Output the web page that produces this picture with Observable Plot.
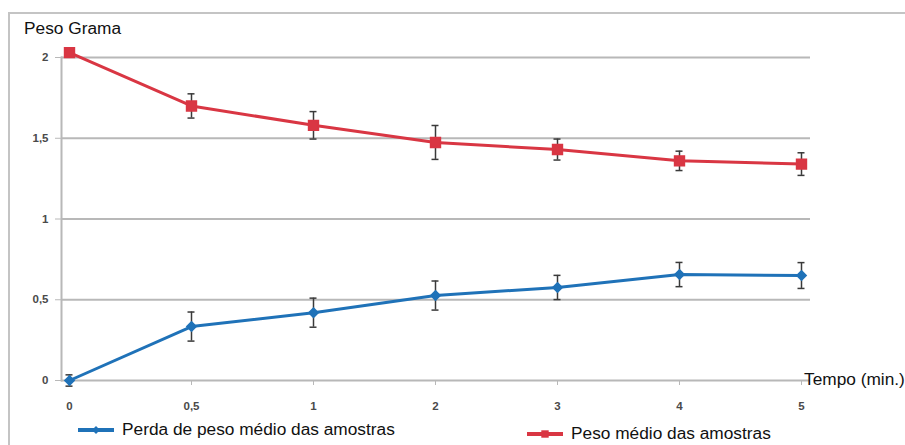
<!DOCTYPE html>
<html>
<head>
<meta charset="utf-8">
<script src="https://cdn.jsdelivr.net/npm/d3@7"></script>
<script src="https://cdn.jsdelivr.net/npm/@observablehq/plot@0.6"></script>
<style>
  html, body { margin: 0; padding: 0; background: #fff; }
  #wrap { position: relative; width: 905px; height: 445px; overflow: hidden; font-family: "Liberation Sans", Arial, sans-serif; }
  #box { position: absolute; left: 8px; top: 12px; width: 1000px; height: 500px; border-left: 2px solid #c4c4c4; border-top: 2px solid #c4c4c4; }
  #chart { position: absolute; left: 0; top: 0; }
  .lbl { position: absolute; font-size: 17.3px; color: #111; white-space: nowrap; }
  .leg { position: absolute; display: flex; align-items: center; font-size: 17.3px; color: #111; white-space: nowrap; }
  .leg svg { margin-right: 8px; }
</style>
</head>
<body>
<div id="wrap">
  <div id="box"></div>
  <div id="chart"></div>
  <div class="lbl" style="left:24px; top:18px;">Peso Grama</div>
  <div class="lbl" style="left:804px; top:369px;">Tempo (min.)</div>
  <div class="leg" id="leg1" style="left:78px; top:419px;"></div>
  <div class="leg" id="leg2" style="left:527px; top:423px;"></div>
</div>
<script>
const tempos = ["0", "0,5", "1", "2", "3", "4", "5"];
const perdaLabel = "Perda de peso médio das amostras";
const perda = [0, 0.334, 0.42, 0.526, 0.576, 0.656, 0.65];
const perdaErr = [0.035, 0.09, 0.09, 0.09, 0.075, 0.075, 0.08];
const pesoLabel = "Peso médio das amostras";
const peso = [2.03, 1.70, 1.58, 1.474, 1.43, 1.36, 1.34];
const pesoErr = [0, 0.075, 0.085, 0.105, 0.065, 0.06, 0.07];
const yTicks = [0, 0.5, 1, 1.5, 2];

const blue = "#1f72b8";
const red = "#d93643";
const errColor = "#3a3a3a";

const perdaData = tempos.map((t, i) => ({t, v: perda[i], e: perdaErr[i]}));
const pesoData = tempos.map((t, i) => ({t, v: peso[i], e: pesoErr[i]}));
const errData = [...perdaData, ...pesoData].filter(d => d.e > 0);

const fmt = d => String(d).replace(".", ",");

const chart = Plot.plot({
  width: 905,
  height: 445,
  marginLeft: 61,
  marginRight: 95,
  marginTop: 57,
  marginBottom: 65,
  style: {background: "transparent", fontFamily: "'Liberation Sans', Arial, sans-serif"},
  x: {type: "point", domain: tempos, padding: 0, insetLeft: 7, insetRight: 8, label: null},
  y: {domain: [0, 2], label: null},
  marks: [
    Plot.ruleY(yTicks, {stroke: "#b8b8b8", strokeWidth: 2}),
    Plot.frame({anchor: "left", stroke: "#b8b8b8", strokeWidth: 2}),
    Plot.axisY(yTicks, {tickFormat: fmt, tickSize: 6, tickPadding: 7, stroke: "#b8b8b8", fill: "#4a4a4a", fontSize: 11.5, fontWeight: "bold", label: null}),
    Plot.axisX({tickSize: 5, tickPadding: 16, stroke: "#b8b8b8", fill: "#4a4a4a", fontSize: 11.5, fontWeight: "bold", label: null}),
    Plot.lineY(perdaData, {x: "t", y: "v", stroke: blue, strokeWidth: 3}),
    Plot.lineY(pesoData, {x: "t", y: "v", stroke: red, strokeWidth: 3}),
    Plot.ruleX(errData, {x: "t", y1: d => d.v - d.e, y2: d => d.v + d.e, stroke: errColor, strokeWidth: 1.5}),
    Plot.ruleY(errData, {x1: "t", x2: "t", y: d => d.v - d.e, insetLeft: -3.5, insetRight: -3.5, stroke: errColor, strokeWidth: 1.5}),
    Plot.ruleY(errData, {x1: "t", x2: "t", y: d => d.v + d.e, insetLeft: -3.5, insetRight: -3.5, stroke: errColor, strokeWidth: 1.5}),
    Plot.dot(perdaData, {x: "t", y: "v", symbol: "diamond2", r: 4.2, fill: blue, stroke: blue}),
    Plot.dot(pesoData, {x: "t", y: "v", symbol: "square2", r: 6.3, fill: red, stroke: red})
  ]
});
document.getElementById("chart").appendChild(chart);

function legendItem(el, color, symbol, size, label) {
  const ns = "http://www.w3.org/2000/svg";
  const svg = document.createElementNS(ns, "svg");
  svg.setAttribute("width", 36); svg.setAttribute("height", 12);
  const line = document.createElementNS(ns, "line");
  line.setAttribute("x1", 0); line.setAttribute("x2", 36);
  line.setAttribute("y1", 6); line.setAttribute("y2", 6);
  line.setAttribute("stroke", color); line.setAttribute("stroke-width", 4);
  svg.appendChild(line);
  const p = document.createElementNS(ns, "path");
  p.setAttribute("d", d3.symbol(symbol, size)());
  p.setAttribute("transform", "translate(18,6)");
  p.setAttribute("fill", color);
  svg.appendChild(p);
  el.appendChild(svg);
  const span = document.createElement("span");
  span.textContent = label;
  el.appendChild(span);
}
legendItem(document.getElementById("leg1"), blue, d3.symbolDiamond2, 40, perdaLabel);
legendItem(document.getElementById("leg2"), red, d3.symbolSquare2, 70, pesoLabel);
</script>
</body>
</html>
